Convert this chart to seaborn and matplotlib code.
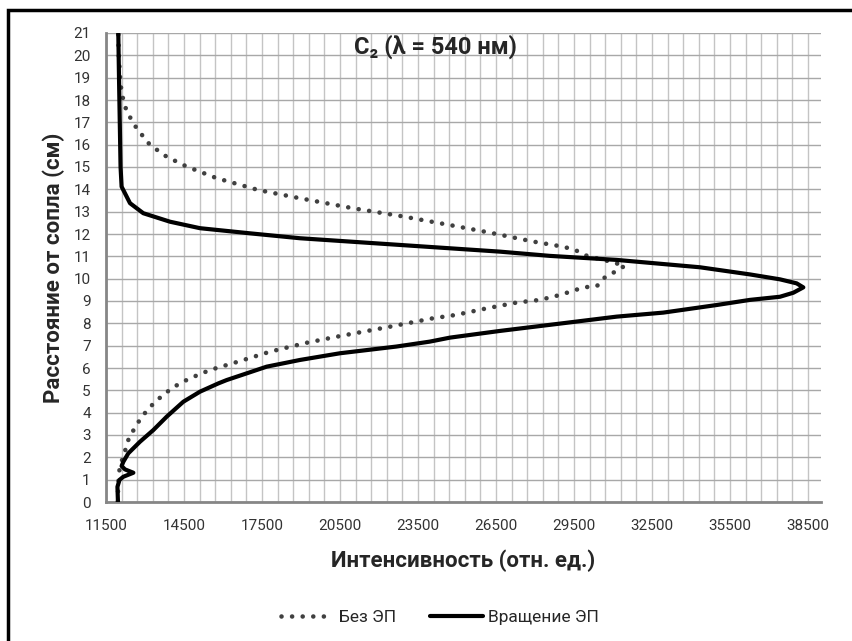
import numpy as np
import pandas as pd
import seaborn as sns
import matplotlib
matplotlib.use("Agg")
from matplotlib import pyplot as plt
from matplotlib.patches import Rectangle

# Data
# "Без ЭП" (dotted)
bez_y = [0.0, 0.8, 1.3, 1.58, 2.0, 2.25, 2.63, 3.08, 3.45, 3.82, 4.15, 4.49, 4.79, 5.09,
         5.31, 5.54, 5.91, 6.31, 6.73, 7.13, 7.43, 7.85, 8.23, 8.37, 8.67, 8.93, 9.05, 9.27,
         9.61, 9.67, 10.02, 10.31, 10.58, 10.84, 11.02, 11.28, 11.43, 11.66, 12.06, 12.40,
         12.81, 13.15, 13.60, 13.97, 14.50, 15.02, 15.46, 15.99, 16.73, 17.48, 18.30, 19.05,
         20.0, 21.0]
bez_x = [11950, 11970, 12000, 12038, 12150, 12230, 12296, 12488, 12680, 12872, 13127, 13385,
         13705, 14025, 14345, 14731, 15500, 16654, 17807, 19218, 20500, 22423, 24089, 24922,
         26140, 27294, 28192, 28961, 29871, 30384, 30640, 31076, 31460, 30640, 30000, 29550,
         29089, 27935, 26268, 24730, 22807, 21011, 18961, 17357, 15757, 14603, 13834, 13192,
         12680, 12296, 12100, 12038, 11990, 11973]

# "Вращение ЭП" (solid)
vr_y = [0.0, 0.68, 0.99, 1.13, 1.31, 1.46, 1.61, 1.80, 2.18, 2.70, 3.22, 3.82, 4.49, 4.94,
        5.31, 5.46, 6.06, 6.36, 6.66, 6.96, 7.18, 7.36, 7.66, 7.97, 8.30, 8.48, 8.82, 9.05,
        9.19, 9.37, 9.61, 9.79, 9.97, 10.19, 10.51, 10.84, 11.02, 11.21, 11.36, 11.51, 11.66,
        11.81, 12.03, 12.26, 12.55, 12.93, 13.38, 14.12, 15.0, 17.0, 19.0, 21.0]
vr_x = [11960, 11940, 12020, 12166, 12552, 12230, 12100, 12166, 12358, 12808, 13319, 13834,
        14475, 15115, 15820, 16141, 17680, 18961, 20500, 22666, 23948, 24730, 26653, 28833,
        31140, 32934, 34986, 36268, 37422, 37935, 38319, 38063, 37422, 36268, 34345, 31140,
        28576, 26653, 24730, 22807, 20884, 18961, 17038, 15115, 13962, 12935, 12423, 12100,
        12060, 12030, 12000, 11973]

x_ticks = list(range(11500, 38501, 3000))
y_ticks = list(range(0, 22))

title = "C\u2082 (\u03bb = 540 нм)"
x_label = "Интенсивность (отн. ед.)"
y_label = "Расстояние от сопла (см)"
labels = ["Без ЭП", "Вращение ЭП"]

sns.set_theme(style="white")
plt.rcParams['font.family'] = ['Roboto', 'Noto Sans', 'DejaVu Sans']

fig = plt.figure(figsize=(8.53, 6.41), dpi=100)
ax = fig.add_axes([106 / 853, 1 - 502 / 641, (821 - 106) / 853, (502 - 33) / 641])

df_bez = pd.DataFrame({"x": bez_x, "y": bez_y})
df_vr = pd.DataFrame({"x": vr_x, "y": vr_y})

dot_style = (0, (0.01, 2.3))
sns.lineplot(data=df_bez, x="x", y="y", sort=False, estimator=None, ax=ax,
             color="#404040", linewidth=3.3, linestyle=dot_style,
             dash_capstyle="round", zorder=3)
sns.lineplot(data=df_vr, x="x", y="y", sort=False, estimator=None, ax=ax,
             color="black", linewidth=3.0, zorder=4)

ax.set_xlim(11500, 39000)
ax.set_ylim(0, 21)
ax.set_xticks(x_ticks)
ax.set_yticks(y_ticks)
ax.set_xticks(np.arange(11500, 39000, 600), minor=True)

ax.grid(True, which="both", axis="x", color="#c4c4c4", linewidth=1.0)
ax.grid(True, which="major", axis="y", color="#a8a8a8", linewidth=1.0)
ax.set_axisbelow(True)

for s in ["top", "right"]:
    ax.spines[s].set_visible(False)
for s in ["left", "bottom"]:
    ax.spines[s].set_color("#868686")
    ax.spines[s].set_linewidth(2.0)

ax.tick_params(axis="both", which="major", direction="out", length=4, width=2,
               color="#868686", labelsize=11, labelcolor="#333333")
ax.tick_params(axis="y", which="major", pad=7)
ax.tick_params(axis="x", which="major", pad=8)
ax.tick_params(axis="x", which="minor", length=0)

ax.set_xlabel(x_label, fontsize=16, fontweight="bold", labelpad=12)
ax.set_ylabel(y_label, fontsize=16, fontweight="bold", labelpad=6)

ax.text((435 - 106) / (821 - 106), (502 - 47) / 469, title, transform=ax.transAxes,
        ha="center", va="center", fontsize=17, fontweight="bold")

handles = [plt.Line2D([], [], color="#404040", linewidth=3.3, linestyle=dot_style,
                      dash_capstyle="round"),
           plt.Line2D([], [], color="black", linewidth=3.0)]
fig.legend(handles, labels, loc="center", bbox_to_anchor=(440 / 853, 1 - 617 / 641),
           ncol=2, frameon=False, fontsize=12.5, handlelength=3.0, handletextpad=0.3,
           columnspacing=2.0)

# outer chart frame (cropped at right and bottom)
fig.patches.append(Rectangle((8 / 853, -0.1), 1.2, 1.1 - 10 / 641, transform=fig.transFigure,
                             fill=False, edgecolor="black", linewidth=2.5))

fig.savefig("out.png", dpi=100)
